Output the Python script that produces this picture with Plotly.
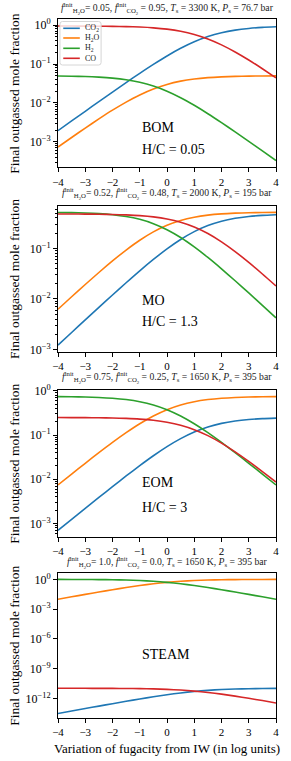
import plotly.graph_objects as go

# ---------------- data ----------------
x_vals = [-4.0, -3.5, -3.0, -2.5, -2.0, -1.5, -1.0, -0.5, 0.0, 0.5, 1.0, 1.5, 2.0, 2.5, 3.0, 3.5, 4.0]

species = ["CO<sub>2</sub>", "H<sub>2</sub>O", "H<sub>2</sub>", "CO"]
colors = ["#1f77b4", "#ff7f0e", "#2ca02c", "#d62728"]

# BOM
bom_co2 = [0.001944, 0.00345, 0.006118, 0.010826, 0.019084, 0.03341, 0.05783, 0.098188, 0.161618,
           0.253774, 0.373613, 0.508671, 0.638524, 0.745479, 0.823029, 0.874163, 0.905814]
bom_h2o = [0.000739, 0.001299, 0.002264, 0.003889, 0.006522, 0.010527, 0.016088, 0.022872, 0.03,
           0.036365, 0.041292, 0.0447, 0.046875, 0.048192, 0.048967, 0.049414, 0.049669]
bom_h2 = [0.04926, 0.0487, 0.04774, 0.04611, 0.04348, 0.03947, 0.03391, 0.02713, 0.02,
          0.01364, 0.008708, 0.0053, 0.003125, 0.001808, 0.001033, 0.000586, 0.000331]
bom_co = [0.948, 0.9465, 0.9439, 0.9392, 0.9309, 0.9166, 0.8922, 0.8518, 0.7884,
          0.6962, 0.5764, 0.4413, 0.3115, 0.2045, 0.127, 0.0758, 0.0442]

# MO
mo_co2 = [0.001225, 0.002174, 0.003854, 0.006812, 0.011981, 0.020897, 0.035945, 0.060401, 0.097834,
          0.150141, 0.214729, 0.283237, 0.345169, 0.39354, 0.427222, 0.448821, 0.461955]
mo_h2o = [0.006267, 0.01104, 0.01932, 0.03338, 0.05654, 0.09268, 0.14477, 0.21158, 0.28577,
          0.35591, 0.41296, 0.45384, 0.48061, 0.49708, 0.50686, 0.51253, 0.51577]
mo_h2 = [0.5137, 0.509, 0.5007, 0.4866, 0.4635, 0.4273, 0.3752, 0.3084, 0.2342,
         0.1641, 0.107, 0.06616, 0.03939, 0.02292, 0.01314, 0.007471, 0.004228]
mo_co = [0.4788, 0.4778, 0.4761, 0.4732, 0.468, 0.4591, 0.4441, 0.4196, 0.3822,
         0.3299, 0.2653, 0.1968, 0.1348, 0.08646, 0.05278, 0.03118, 0.01805]

# EOM
eom_co2 = [0.000698, 0.001238, 0.002194, 0.003875, 0.006809, 0.011856, 0.020334, 0.034007, 0.054688,
           0.083093, 0.117399, 0.152892, 0.184211, 0.208183, 0.224629, 0.235069, 0.241379]
eom_h2o = [0.007426, 0.013102, 0.02299, 0.039928, 0.068182, 0.113225, 0.180178, 0.27, 0.375,
           0.480006, 0.569798, 0.636702, 0.681818, 0.710064, 0.727008, 0.736895, 0.742574]
eom_h2 = [0.7426, 0.7369, 0.727, 0.7101, 0.6818, 0.6368, 0.5698, 0.48, 0.375,
          0.27, 0.1802, 0.1133, 0.06818, 0.03994, 0.02299, 0.0131, 0.007426]
eom_co = [0.2493, 0.2488, 0.2478, 0.2461, 0.2432, 0.2381, 0.2297, 0.216, 0.1953,
          0.1669, 0.1326, 0.09711, 0.06579, 0.04182, 0.02537, 0.01493, 0.008621]

# STEAM
steam_co2 = [3.18e-14, 5.64e-14, 1.0e-13, 1.765e-13, 3.1e-13, 5.39e-13, 9.24e-13, 1.542e-12, 2.473e-12,
             3.743e-12, 5.262e-12, 6.819e-12, 8.179e-12, 9.213e-12, 9.918e-12, 1.0364e-11, 1.0633e-11]
steam_h2o = [0.009901, 0.01747, 0.03065, 0.05324, 0.09091, 0.151, 0.2402, 0.36, 0.5,
             0.64, 0.7597, 0.8489, 0.9091, 0.9468, 0.9693, 0.9825, 0.9901]
steam_h2 = [0.9901, 0.9825, 0.9693, 0.9468, 0.9091, 0.849, 0.7598, 0.64, 0.5,
            0.36, 0.2403, 0.1511, 0.09091, 0.05325, 0.03066, 0.01747, 0.009901]
steam_co = [1.0968e-11, 1.0944e-11, 1.09e-11, 1.0824e-11, 1.069e-11, 1.0461e-11, 1.0076e-11, 9.458e-12, 8.527e-12,
            7.257e-12, 5.738e-12, 4.181e-12, 2.821e-12, 1.787e-12, 1.082e-12, 6.356e-13, 3.667e-13]

panel_names = ["BOM", "MO", "EOM", "STEAM"]
hc_labels = ["H/C = 0.05", "H/C = 1.3", "H/C = 3", None]
titles = [
    "<i>f</i><sup>init</sup><sub>H<sub>2</sub>O</sub>= 0.05, <i>f</i><sup>init</sup><sub>CO<sub>2</sub></sub> = 0.95, <i>T</i><sub>s</sub> = 3300 K, <i>P</i><sub>s</sub> = 76.7 bar",
    "<i>f</i><sup>init</sup><sub>H<sub>2</sub>O</sub>= 0.52, <i>f</i><sup>init</sup><sub>CO<sub>2</sub></sub> = 0.48, <i>T</i><sub>s</sub> = 2000 K, <i>P</i><sub>s</sub> = 195 bar",
    "<i>f</i><sup>init</sup><sub>H<sub>2</sub>O</sub>= 0.75, <i>f</i><sup>init</sup><sub>CO<sub>2</sub></sub> = 0.25, <i>T</i><sub>s</sub> = 1650 K, <i>P</i><sub>s</sub> = 395 bar",
    "<i>f</i><sup>init</sup><sub>H<sub>2</sub>O</sub>= 1.0, <i>f</i><sup>init</sup><sub>CO<sub>2</sub></sub> = 0.0, <i>T</i><sub>s</sub> = 1650 K, <i>P</i><sub>s</sub> = 395 bar",
]
panels = [
    [bom_co2, bom_h2o, bom_h2, bom_co],
    [mo_co2, mo_h2o, mo_h2, mo_co],
    [eom_co2, eom_h2o, eom_h2, eom_co],
    [steam_co2, steam_h2o, steam_h2, steam_co],
]
y_ranges = [[-3.653, 0.150], [-3.043, -0.156], [-3.30, 0.02], [-13.95, 0.67]]
x_ticks = [-4, -3, -2, -1, 0, 1, 2, 3, 4]
y_tickvals = [
    [1, 0.1, 0.01, 0.001],
    [0.1, 0.01, 0.001],
    [1, 0.1, 0.01, 0.001],
    [1, 1e-3, 1e-6, 1e-9, 1e-12],
]
y_ticktext = [
    ["10<sup>0</sup>", "10<sup>−1</sup>", "10<sup>−2</sup>", "10<sup>−3</sup>"],
    ["10<sup>−1</sup>", "10<sup>−2</sup>", "10<sup>−3</sup>"],
    ["10<sup>0</sup>", "10<sup>−1</sup>", "10<sup>−2</sup>", "10<sup>−3</sup>"],
    ["10<sup>0</sup>", "10<sup>−3</sup>", "10<sup>−6</sup>", "10<sup>−9</sup>", "10<sup>−12</sup>"],
]

# ---------------- layout geometry ----------------
W, H = 291, 761
ML, MR, MT, MB = 58, 13, 19, 43
plot_w = W - ML - MR
plot_h = H - MT - MB


def py2paper(py, clamp=False):
    v = (H - MB - py) / plot_h
    if clamp:
        v = max(0.0, min(1.0, v))
    return v


def px2paper(px):
    return (px - ML) / plot_w


panel_px = [(19.3, 167.3), (205.7, 351.7), (390.0, 536.7), (572.7, 718.0)]
title_py = [8.5, 193.5, 377.5, 562.5]
name_py = [127, 300, 483, 654]
hc_py = [150, 321, 507, None]

FONT = "Liberation Serif"

fig = go.Figure()
for i, series in enumerate(panels):
    ax = "" if i == 0 else str(i + 1)
    for j, vals in enumerate(series):
        fig.add_trace(go.Scatter(
            x=x_vals, y=vals, mode="lines", name=species[j],
            line=dict(color=colors[j], width=1.6, shape="spline", smoothing=0.6),
            xaxis="x" + ax, yaxis="y" + ax,
            showlegend=False, hoverinfo="skip",
        ))

layout = dict(
    width=W, height=H,
    margin=dict(l=ML, r=MR, t=MT, b=MB),
    paper_bgcolor="white", plot_bgcolor="white",
    font=dict(family=FONT, color="black", size=12),
    showlegend=False,
    annotations=[],
    shapes=[],
)

# compact legend box (rounded, matplotlib-style) inside the first panel
leg_left, leg_top, leg_right, leg_bot, rad = 60, 21.5, 101.5, 65, 2.5


def rounded_box_path(l, t, r, b, rr):
    X = lambda px: px2paper(px)
    Y = lambda py: py2paper(py)
    return (f"M {X(l + rr)},{Y(t)} L {X(r - rr)},{Y(t)} Q {X(r)},{Y(t)} {X(r)},{Y(t + rr)} "
            f"L {X(r)},{Y(b - rr)} Q {X(r)},{Y(b)} {X(r - rr)},{Y(b)} "
            f"L {X(l + rr)},{Y(b)} Q {X(l)},{Y(b)} {X(l)},{Y(b - rr)} "
            f"L {X(l)},{Y(t + rr)} Q {X(l)},{Y(t)} {X(l + rr)},{Y(t)} Z")


layout["shapes"].append(dict(
    type="path", xref="paper", yref="paper",
    path=rounded_box_path(leg_left, leg_top, leg_right, leg_bot, rad),
    line=dict(color="#d6d6d6", width=1), fillcolor="rgba(255,255,255,0.8)", layer="above",
))
leg_rows = [28.3, 38.0, 48.3, 58.3]
for j, name in enumerate(species):
    layout["shapes"].append(dict(
        type="line", xref="paper", yref="paper",
        x0=px2paper(63.3), x1=px2paper(80), y0=py2paper(leg_rows[j]), y1=py2paper(leg_rows[j]),
        line=dict(color=colors[j], width=1.6), layer="above",
    ))
    layout["annotations"].append(dict(
        text=name, xref="paper", yref="paper", x=px2paper(83.5), y=py2paper(leg_rows[j]),
        xanchor="left", yanchor="middle", showarrow=False, font=dict(size=8, color="#222222"),
    ))

for i in range(4):
    ax = "" if i == 0 else str(i + 1)
    top, bot = panel_px[i]
    layout["xaxis" + ax] = dict(
        domain=[0, 1], anchor="y" + ax, range=[-4, 4],
        tickmode="array", tickvals=x_ticks, ticktext=[("−" + str(-t)) if t < 0 else str(t) for t in x_ticks],
        ticks="outside", ticklen=4, tickwidth=1.2, tickcolor="black",
        showline=True, linecolor="black", linewidth=1, mirror=True,
        showgrid=False, zeroline=False, tickfont=dict(size=11),
    )
    yax = dict(
        domain=[py2paper(bot, True), py2paper(top, True)], anchor="x" + ax, type="log",
        range=y_ranges[i],
        tickmode="array", tickvals=y_tickvals[i], ticktext=y_ticktext[i],
        ticks="outside", ticklen=4, tickwidth=1.2, tickcolor="black",
        showline=True, linecolor="black", linewidth=1, mirror=True,
        showgrid=False, zeroline=False, tickfont=dict(size=12),
    )
    if i < 3:
        yax["minor"] = dict(ticks="outside", ticklen=2, tickwidth=0.8, tickcolor="black",
                            dtick="D1", showgrid=False)
    layout["yaxis" + ax] = yax

    # title
    layout["annotations"].append(dict(
        text=titles[i], xref="paper", yref="paper", x=0.5, y=py2paper(title_py[i]),
        xanchor="center", yanchor="middle", showarrow=False, font=dict(size=9.7, color="#222222"),
    ))
    # y label
    layout["annotations"].append(dict(
        text="Final outgassed mole fraction", xref="paper", yref="paper",
        x=px2paper(14), y=py2paper((top + bot) / 2), xanchor="center", yanchor="middle",
        textangle=-90, showarrow=False, font=dict(size=13.5),
    ))
    # panel name
    layout["annotations"].append(dict(
        text=panel_names[i], xref="x" + ax, yref="paper", x=-1.0, y=py2paper(name_py[i]),
        xanchor="left", yanchor="middle", showarrow=False, font=dict(size=14),
    ))
    if hc_labels[i]:
        layout["annotations"].append(dict(
            text=hc_labels[i], xref="x" + ax, yref="paper", x=-1.0, y=py2paper(hc_py[i]),
            xanchor="left", yanchor="middle", showarrow=False, font=dict(size=14),
        ))

layout["annotations"].append(dict(
    text="Variation of fugacity from IW (in log units)", xref="paper", yref="paper",
    x=0.5, y=py2paper(748), xanchor="center", yanchor="middle", showarrow=False,
    font=dict(size=13),
))

fig.update_layout(**layout)
fig.write_html("out.html", config={"displayModeBar": False},
               post_script="document.body.style.margin='0px';")
